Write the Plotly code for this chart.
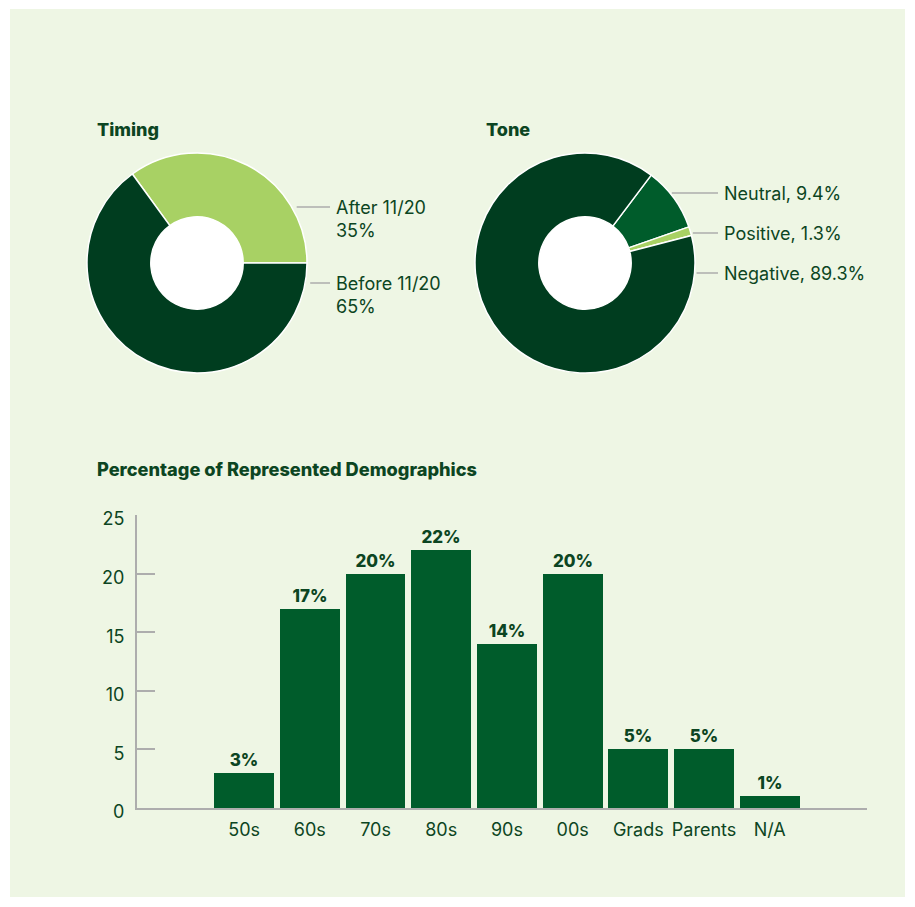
import math
import plotly.graph_objects as go

# ---- data ----
timing_labels = ["After 11/20", "Before 11/20"]
timing_values = [35, 65]

tone_labels = ["Neutral", "Positive", "Negative"]
tone_values = [9.4, 1.3, 89.3]

demo_categories = ["50s", "60s", "70s", "80s", "90s", "00s", "Grads", "Parents", "N/A"]
demo_values = [3, 17, 20, 22, 14, 20, 5, 5, 1]
y_ticks = [0, 5, 10, 15, 20, 25]

# ---- style ----
W, H = 915, 907
PANEL = "#EEF6E4"
DARK = "#003D1F"
MID = "#005C2B"
LIGHT = "#A8D164"
TEXT = "#0C4522"
AXIS = "#ADADAD"
FONT = "Inter"
FS = 18


def px(x):
    return x / W


def py(y):
    return 1 - y / H


fig = go.Figure()

# donut geometry (pixels)
R = 110
HOLE = 0.42
pies = [
    dict(cx=197, cy=263, labels=timing_labels, values=timing_values,
         colors=[LIGHT, DARK], rotation=-36, title="Timing", title_x=95),
    dict(cx=585, cy=263, labels=tone_labels, values=tone_values,
         colors=[MID, LIGHT, DARK], rotation=37, title="Tone", title_x=484),
]

shapes = [
    dict(type="rect", xref="paper", yref="paper", x0=px(10), x1=px(905),
         y0=py(897), y1=py(9), fillcolor=PANEL, line=dict(width=0), layer="below"),
]
annotations = []

for p in pies:
    fig.add_trace(go.Pie(
        labels=p["labels"], values=p["values"], sort=False, direction="clockwise",
        rotation=p["rotation"], hole=HOLE, textinfo="none", hoverinfo="label+percent",
        marker=dict(colors=p["colors"], line=dict(color="white", width=1.5)),
        domain=dict(x=[px(p["cx"] - R), px(p["cx"] + R)],
                    y=[py(p["cy"] + R), py(p["cy"] - R)]),
        showlegend=False,
    ))
    # white centre
    r0 = R * HOLE
    shapes.append(dict(type="circle", xref="paper", yref="paper",
                       x0=px(p["cx"] - r0), x1=px(p["cx"] + r0),
                       y0=py(p["cy"] + r0), y1=py(p["cy"] - r0),
                       fillcolor="white", line=dict(width=0), layer="below"))
    annotations.append(dict(text=p["title"], xref="paper", yref="paper",
                            x=px(p["title_x"]), y=py(129), xanchor="left", yanchor="middle",
                            showarrow=False,
                            font=dict(size=FS, color=TEXT, family=FONT, weight=800)))

# leader lines and outside labels
timing_rows = [207, 283]
for lab, val, ly in zip(timing_labels, timing_values, timing_rows):
    cx, cy = pies[0]["cx"], pies[0]["cy"]
    edge = cx + math.sqrt(R ** 2 - (ly - cy) ** 2)
    shapes.append(dict(type="line", xref="paper", yref="paper",
                       x0=px(edge + 5), x1=px(330), y0=py(ly), y1=py(ly),
                       line=dict(color=AXIS, width=1.5)))
    annotations.append(dict(text=f"{lab}<br>{val}%", xref="paper", yref="paper",
                            x=px(334), y=py(ly - 12), xanchor="left", yanchor="top",
                            align="left", showarrow=False,
                            font=dict(size=FS, color=TEXT, family=FONT)))

tone_rows = [193, 233, 273]
for lab, val, ly in zip(tone_labels, tone_values, tone_rows):
    cx, cy = pies[1]["cx"], pies[1]["cy"]
    edge = cx + math.sqrt(R ** 2 - (ly - cy) ** 2)
    shapes.append(dict(type="line", xref="paper", yref="paper",
                       x0=px(edge + 2), x1=px(718),
                       y0=py(ly), y1=py(ly), line=dict(color=AXIS, width=1.5)))
    annotations.append(dict(text=f"{lab}, {val}%", xref="paper", yref="paper",
                            x=px(722), y=py(ly), xanchor="left", yanchor="middle",
                            showarrow=False, font=dict(size=FS, color=TEXT, family=FONT)))

annotations.append(dict(text="Percentage of Represented Demographics",
                        xref="paper", yref="paper", x=px(95), y=py(469),
                        xanchor="left", yanchor="middle", showarrow=False,
                        font=dict(size=18.2, color=TEXT, family=FONT, weight=800)))

# bar chart
xs = list(range(len(demo_categories)))
fig.add_trace(go.Bar(
    x=xs, y=demo_values, width=0.91, marker=dict(color=MID, line=dict(width=0)),
    text=[f"{v}%" for v in demo_values], textposition="outside",
    textfont=dict(size=17, color=TEXT, family=FONT, weight=800), cliponaxis=False,
    showlegend=False, hovertemplate="%{customdata}: %{y}%<extra></extra>",
    customdata=demo_categories,
))

fig.update_layout(
    width=W, height=H,
    margin=dict(l=0, r=0, t=0, b=0, pad=0, autoexpand=False),
    paper_bgcolor="white", plot_bgcolor="rgba(0,0,0,0)",
    shapes=shapes, annotations=annotations,
    font=dict(family=FONT, color=TEXT, size=FS),
    xaxis=dict(domain=[px(137), px(867)], range=[-1.63, 9.48],
               tickvals=xs, ticktext=demo_categories, showgrid=False, zeroline=False,
               showline=True, linecolor=AXIS, linewidth=2, ticks="",
               ticklabelstandoff=4, tickfont=dict(size=FS, color=TEXT), fixedrange=True),
    yaxis=dict(domain=[py(808), py(515)], range=[0, 25], tickvals=y_ticks,
               showgrid=False, zeroline=False, showline=True, linecolor=AXIS,
               linewidth=2, ticks="inside", ticklen=18, tickwidth=2, tickcolor=AXIS,
               ticklabelstandoff=7, ticklabelshift=4,
               tickfont=dict(size=FS, color=TEXT), fixedrange=True),
    bargap=0,
)

fig.write_html("out.html")
